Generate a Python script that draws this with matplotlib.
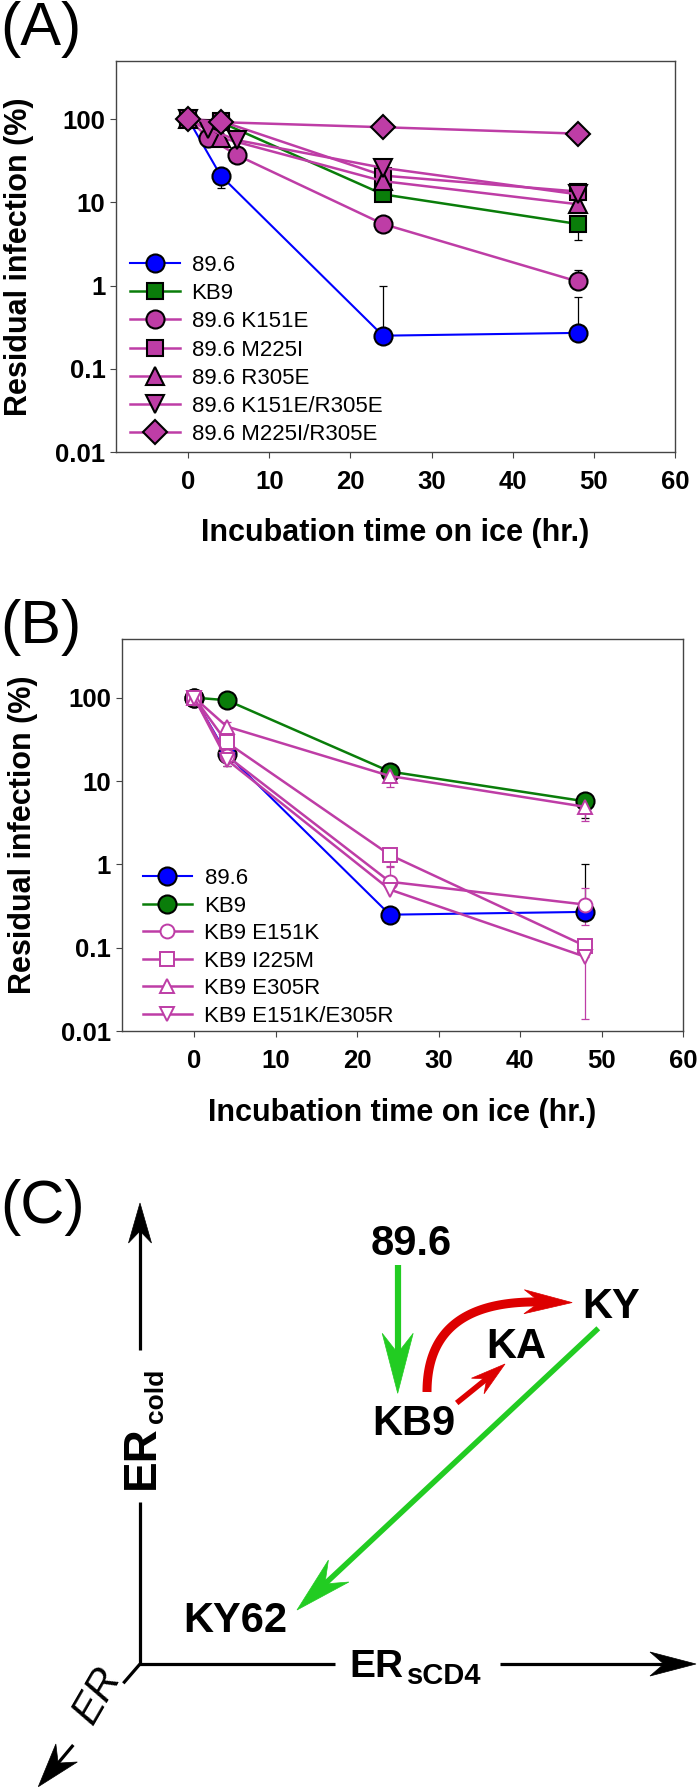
import numpy as np
import matplotlib
matplotlib.use("Agg")
import matplotlib.pyplot as plt
from matplotlib.patches import Polygon
from matplotlib.ticker import NullLocator

plt.rcParams['font.family'] = ['Liberation Sans', 'DejaVu Sans']

# ---------------- data ----------------
xticks = [0, 10, 20, 30, 40, 50, 60]
yticks = [0.01, 0.1, 1, 10, 100]
ytick_labels = ['0.01', '0.1', '1', '10', '100']

# Panel A
a_labels = ['89.6', 'KB9', '89.6 K151E', '89.6 M225I', '89.6 R305E',
            '89.6 K151E/R305E', '89.6 M225I/R305E']
a_times = [[0, 4, 24, 48], [0, 4, 24, 48], [0, 2.5, 6, 24, 48], [0, 4, 24, 48],
           [0, 4, 24, 48], [0, 2.5, 6, 24, 48], [0, 4, 24, 48]]
a_values = [[100, 21, 0.25, 0.27],
            [100, 92, 12.5, 5.5],
            [100, 60, 37, 5.5, 1.12],
            [100, 95, 21, 13.5],
            [100, 60, 18, 9.5],
            [100, 76, 56, 26, 12.5],
            [100, 92, 80, 67]]
a_err_lo = [[0, 6, 0, 0], [0, 0, 0, 2.0], [0, 0, 0, 1.0, 0], [0, 0, 0, 0],
            [0, 0, 0, 0], [0, 0, 0, 0, 0], [0, 0, 0, 0]]
a_err_hi = [[0, 0, 0.75, 0.45], [0, 0, 0, 0], [0, 0, 0, 0, 0.4], [0, 0, 0, 0],
            [0, 0, 0, 0], [0, 0, 0, 0, 0], [0, 0, 0, 0]]

# Panel B
b_labels = ['89.6', 'KB9', 'KB9 E151K', 'KB9 I225M', 'KB9 E305R', 'KB9 E151K/E305R']
b_times = [0, 4, 24, 48]
b_values = [[100, 21, 0.25, 0.27],
            [100, 93, 13, 5.7],
            [100, 20, 0.62, 0.33],
            [100, 29, 1.3, 0.105],
            [100, 45, 11.5, 4.9],
            [100, 18, 0.5, 0.078]]
b_err_lo = [[0, 6, 0, 0], [0, 0, 0, 2.1], [0, 0, 0, 0.14], [0, 0, 0.33, 0],
            [0, 8, 3.1, 1.6], [0, 3, 0, 0.064]]
b_err_hi = [[0, 0, 0, 0.75], [0, 0, 0, 1.5], [0, 0, 0.3, 0.19], [0, 0, 0, 0],
            [0, 6, 0, 0], [0, 0, 0, 0]]

# ---------------- styles ----------------
MAG = '#BE3DA6'
BLUE = '#0000FF'
GRN = '#0A7D0A'
a_markers = ['o', 's', 'o', 's', '^', 'v', 'D']
a_colors = [BLUE, GRN, MAG, MAG, MAG, MAG, MAG]
a_msize = [13, 12, 13, 12, 13, 13, 12]
b_markers = ['o', 'o', 'o', 's', '^', 'v']
b_colors = [BLUE, GRN, MAG, MAG, MAG, MAG]
b_filled = [True, True, False, False, False, False]

W, H = 700, 1789
fig = plt.figure(figsize=(W / 100, H / 100), dpi=100)


def rect(l, t, r, b):
    return [l / W, 1 - b / H, (r - l) / W, (b - t) / H]


axA = fig.add_axes(rect(116, 61, 675, 452))
axB = fig.add_axes(rect(121.7, 639.3, 683.3, 1031.3))


def style(ax):
    ax.set_yscale('log')
    ax.set_ylim(0.01, 500)
    ax.set_xlim(-8.9, 60)
    ax.set_xticks(xticks)
    ax.set_xticklabels([str(v) for v in xticks], fontweight='bold', fontsize=18.5)
    ax.set_yticks(yticks)
    ax.set_yticklabels(ytick_labels, fontweight='bold', fontsize=18.5)
    ax.yaxis.set_minor_locator(NullLocator())
    ax.tick_params(axis='both', direction='out', length=4.3, width=0.8,
                   color='#444444', top=False, right=False)
    ax.tick_params(axis='x', pad=8.8)
    ax.tick_params(axis='y', pad=3.3)
    for s in ax.spines.values():
        s.set_color('#444444')
        s.set_linewidth(1.0)


def errs(ax, x, y, lo, hi, color):
    x = np.asarray(x, float); y = np.asarray(y, float)
    lo = np.asarray(lo, float); hi = np.asarray(hi, float)
    m = (lo > 0) | (hi > 0)
    if m.any():
        ax.errorbar(x[m], y[m], yerr=[lo[m], hi[m]], fmt='none', ecolor=color,
                    elinewidth=0.9, capsize=3, capthick=0.9, zorder=1)


# overlay (pixel coordinates) for legends, labels and diagram
ov = fig.add_axes([0, 0, 1, 1])
ov.set_xlim(0, W)
ov.set_ylim(H, 0)
ov.axis('off')
ov.patch.set_alpha(0)


def legend_row(y, x0, x1, xt, label, plot_kw):
    ov.plot([x0, x1], [y, y], **plot_kw)
    ov.plot([(x0 + x1) / 2], [y], **{k: v for k, v in plot_kw.items() if k not in ('lw',)})
    ov.text(xt, y + 8, label, fontsize=16, ha='left', va='baseline')


# Panel A
for i, lab in enumerate(a_labels):
    errs(axA, a_times[i], a_values[i], a_err_lo[i], a_err_hi[i], 'black')
for i, lab in enumerate(a_labels):
    lw = 1.5 if a_colors[i] == BLUE else 1.8
    kw = dict(color=a_colors[i], lw=lw, marker=a_markers[i],
              markersize=a_msize[i], markerfacecolor=a_colors[i],
              markeredgecolor='black', markeredgewidth=1.5)
    axA.plot(a_times[i], a_values[i], zorder=3 + i, **kw)
    ov.plot([130, 179.5], [263 + 28.2 * i] * 2, color=a_colors[i], lw=lw)
    ov.plot([154.7], [263 + 28.2 * i], marker=a_markers[i], markersize=a_msize[i],
            markerfacecolor=a_colors[i], markeredgecolor='black', markeredgewidth=1.5,
            linestyle='none')
    ov.text(191.6, 263 + 28.2 * i + 8, lab, fontsize=16, ha='left', va='baseline')
style(axA)

# Panel B
for i, lab in enumerate(b_labels):
    ec = 'black' if i < 2 else MAG
    errs(axB, b_times, b_values[i], b_err_lo[i], b_err_hi[i], ec)
for i, lab in enumerate(b_labels):
    lw = 1.5 if i == 0 else 1.8
    if b_filled[i]:
        mk = dict(marker=b_markers[i], markersize=13, markerfacecolor=b_colors[i],
                  markeredgecolor='black', markeredgewidth=1.5)
    else:
        mk = dict(marker=b_markers[i], markersize=10, markerfacecolor='white',
                  markeredgecolor=b_colors[i], markeredgewidth=1.4)
    axB.plot(b_times, b_values[i], color=b_colors[i], lw=lw, zorder=3 + i, **mk)
    yy = 876.4 + 27.5 * i
    ov.plot([143, 191.7], [yy, yy], color=b_colors[i], lw=lw)
    ov.plot([167.4], [yy], linestyle='none', **mk)
    ov.text(204.5, yy + 8, lab, fontsize=16, ha='left', va='baseline')
style(axB)

ov.text(0, 30, '(A)', fontsize=44, ha='left', va='center')
ov.text(0, 628, '(B)', fontsize=44, ha='left', va='center')
ov.text(0, 1208, '(C)', fontsize=44, ha='left', va='center')

lab_kw = dict(fontsize=22, fontweight='bold', ha='center', va='center')
ov.text(395.5, 533, 'Incubation time on ice (hr.)', **lab_kw)
ov.text(19, 256.5, 'Residual infection (%)', rotation=90, **lab_kw)
ov.text(402, 1113, 'Incubation time on ice (hr.)', **lab_kw)
ov.text(23, 835, 'Residual infection (%)', rotation=90, **lab_kw)

# Diagram (C)
RED = '#DD0000'
LGRN = '#22CC22'


def head(tip, d, length, width, color, notch=0.33):
    tip = np.asarray(tip, float)
    d = np.asarray(d, float)
    d = d / np.hypot(*d)
    n = np.array([-d[1], d[0]])
    base = tip - d * length
    pts = [tip, base + n * width / 2, base + d * length * notch, base - n * width / 2]
    ov.add_patch(Polygon(pts, closed=True, fc=color, ec=color, lw=0.5, zorder=4))
    return d


def arrow(start, tip, lw_px, length, width, color, notch=0.33):
    start = np.asarray(start, float)
    tip = np.asarray(tip, float)
    d = head(tip, tip - start, length, width, color, notch)
    end = tip - d * length * 0.6
    ov.plot([start[0], end[0]], [start[1], end[1]], color=color,
            lw=lw_px * 0.72, solid_capstyle='butt', zorder=3)


def seg(p, q, lw_px, color='black'):
    ov.plot([p[0], q[0]], [p[1], q[1]], color=color, lw=lw_px * 0.72,
            solid_capstyle='butt', zorder=3)


# axes of diagram
origin = (140, 1664)
seg(origin, (140, 1502), 3.2)
arrow((140, 1350), (140, 1203), 3.2, 40, 23, 'black', notch=0.3)
seg((138.5, 1664), (335, 1664), 3.2)
arrow((500, 1664), (696, 1664), 3.2, 46, 24, 'black', notch=0.3)
seg(origin, (123.3, 1683.3), 3.2)
arrow((73.3, 1745), (38.3, 1786.7), 3.2, 44, 28, 'black', notch=0.3)

ov.text(154, 1457, 'ER', rotation=90, rotation_mode='anchor', ha='center',
        va='baseline', fontsize=33, fontweight='bold')
ov.text(163, 1395.6, 'cold', rotation=90, rotation_mode='anchor', ha='center',
        va='baseline', fontsize=19, fontweight='bold')
ov.text(376, 1677.4, 'ER', ha='center', va='baseline', fontsize=28, fontweight='bold')
ov.text(444, 1684, 'sCD4', ha='center', va='baseline', fontsize=21, fontweight='bold')
ov.text(97.5, 1695, 'ER', rotation=60, ha='center', va='center', fontsize=30,
        style='italic')

node_kw = dict(fontsize=30, fontweight='bold', ha='center', va='baseline')
ov.text(410.8, 1255, '89.6', **node_kw)
ov.text(414, 1435, 'KB9', **node_kw)
ov.text(515.8, 1358.3, 'KA', **node_kw)
ov.text(611, 1318, 'KY', **node_kw)
ov.text(235.6, 1632, 'KY62', **node_kw)

# green arrows
arrow((397.7, 1265), (397.7, 1393.3), 6.2, 60, 31, LGRN)
arrow((598.3, 1328.3), (297, 1610), 5.5, 57, 30, LGRN)
# red arrows
arrow((456.7, 1403), (505, 1364), 5.5, 35, 20, RED)
P0 = np.array([427.0, 1392.0])
P1 = np.array([427.0, 1300.0])
P2 = np.array([540.0, 1302.0])
t = np.linspace(0, 1, 60)[:, None]
curve = (1 - t) ** 2 * P0 + 2 * (1 - t) * t * P1 + t ** 2 * P2
ov.plot(curve[:, 0], curve[:, 1], color=RED, lw=9 * 0.72, solid_capstyle='butt', zorder=3)
dend = (P2 - P1) / np.hypot(*(P2 - P1))
head(P2 + dend * 48 * 0.67, dend, 48, 24, RED)

fig.savefig('out.png', dpi=100)
